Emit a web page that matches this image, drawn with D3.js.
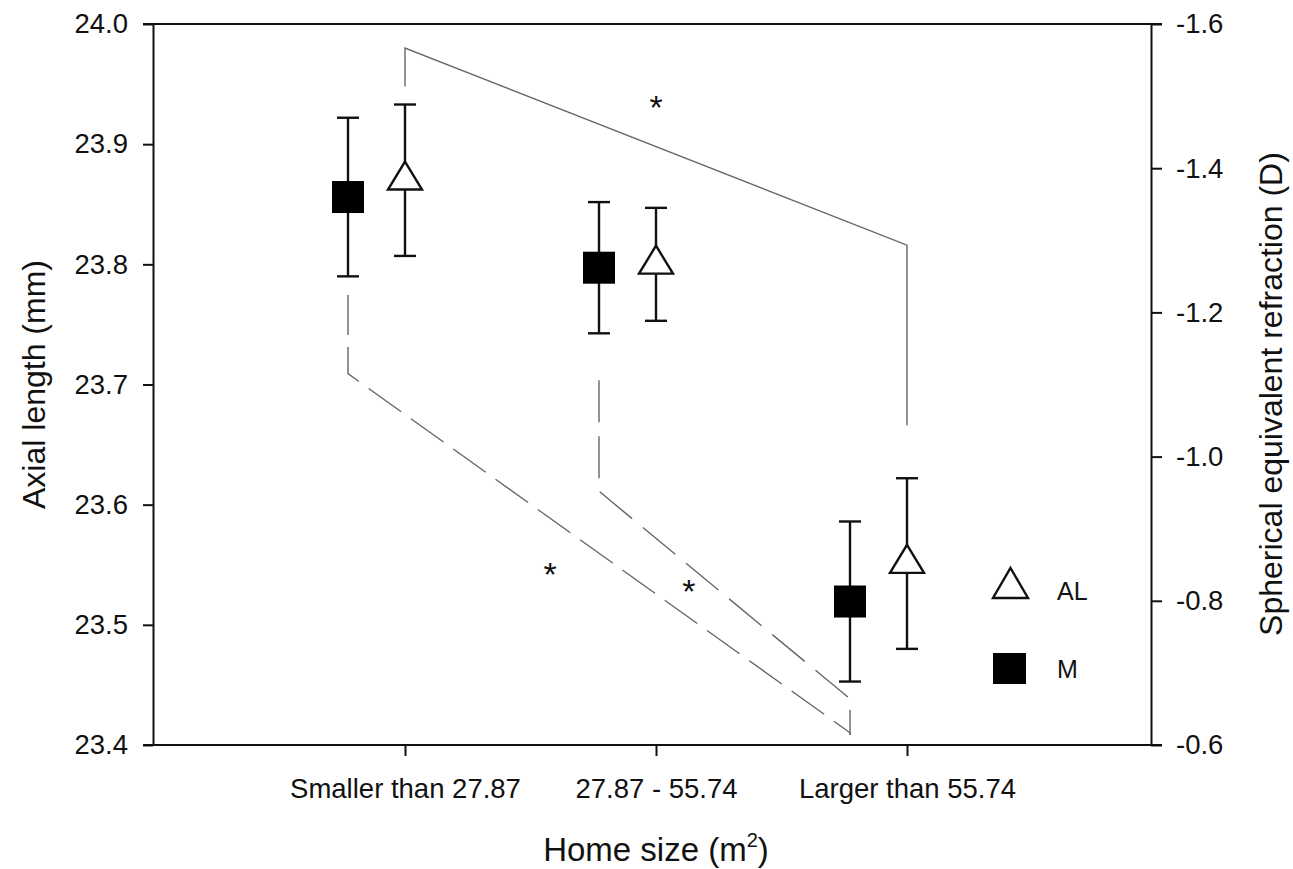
<!DOCTYPE html>
<html>
<head>
<meta charset="utf-8">
<script src="https://cdn.jsdelivr.net/npm/d3@7"></script>
<style>
  html, body { margin: 0; padding: 0; background: #fff; }
  svg { display: block; }
  text { font-family: "Liberation Sans", Arial, sans-serif; fill: #111; }
</style>
</head>
<body>
<svg id="chart" width="1293" height="869"></svg>
<script>
// Home-size groups
const categories = ["Smaller than 27.87", "27.87 - 55.74", "Larger than 55.74"];

// Axial length (mm), left axis: mean and error half-width
const alMean = [23.870, 23.800, 23.551];
const alErr  = [0.063, 0.047, 0.071];

// Spherical equivalent refraction (D), right axis: mean and error half-width
const mMean = [-1.360, -1.262, -0.799];
const mErr  = [0.110, 0.091, 0.111];

// Axis ticks
const leftTicks  = [23.4, 23.5, 23.6, 23.7, 23.8, 23.9, 24.0];
const rightTicks = [-1.6, -1.4, -1.2, -1.0, -0.8, -0.6];

// Significance brackets: [category index, value] corners
const bracketAL = [[0, 23.948], [0, 23.980], [2, 23.816], [2, 23.666]];          // left axis, AL column
const bracketM13 = [[0, -1.224], [0, -1.115], [2, -0.617], [2, -0.614]];       // right axis, M column
const bracketM23 = [[1, -1.106], [1, -0.952], [2, -0.664], [2, -0.614]];       // right axis, M column

// Asterisks: [fractional category position, axial length value]
const stars = [[1.0, 23.937], [0.578, 23.548], [1.131, 23.534]];

const svg = d3.select("#chart");
const plotLeft = 153, plotRight = 1151, plotTop = 24, plotBottom = 745;

const x = d3.scalePoint().domain(categories).range([405, 907]).padding(0);
const xi = d3.scaleLinear().domain([0, 2]).range([405, 907]);
const yL = d3.scaleLinear().domain([23.4, 24.0]).range([plotBottom, plotTop]);
const yR = d3.scaleLinear().domain([-0.6, -1.6]).range([plotBottom, plotTop]);
const mOffset = -57;

// Frame lines (top and bottom), extending over the outer ticks
svg.append("line").attr("x1", plotLeft - 10).attr("x2", plotRight + 11)
  .attr("y1", plotTop).attr("y2", plotTop).attr("stroke", "#111").attr("stroke-width", 2);
svg.append("line").attr("x1", plotLeft - 10).attr("x2", plotRight + 11)
  .attr("y1", plotBottom).attr("y2", plotBottom).attr("stroke", "#111").attr("stroke-width", 2);

// Left axis
const gL = svg.append("g").attr("transform", `translate(${plotLeft},0)`)
  .call(d3.axisLeft(yL).tickValues(leftTicks).tickFormat(d => d.toFixed(1))
    .tickSize(10).tickSizeOuter(0).tickPadding(15));
// Right axis
const gR = svg.append("g").attr("transform", `translate(${plotRight},0)`)
  .call(d3.axisRight(yR).tickValues(rightTicks).tickFormat(d => d.toFixed(1))
    .tickSize(11).tickSizeOuter(0).tickPadding(14));
// Bottom axis
const gB = svg.append("g").attr("transform", `translate(0,${plotBottom})`)
  .call(d3.axisBottom(x).tickSize(11).tickSizeOuter(0).tickPadding(22));
gB.select(".domain").remove();

[gL, gR, gB].forEach(g => {
  g.selectAll(".domain").attr("stroke", "#111").attr("stroke-width", 2);
  g.selectAll(".tick line").attr("stroke", "#111").attr("stroke-width", 2);
  g.selectAll("text").style("font-family", "'Liberation Sans', Arial, sans-serif")
    .style("font-size", "27.5px").attr("fill", "#111");
});

// Significance brackets
const lineGen = (ys, off) => d3.line().x(d => xi(d[0]) + off).y(d => ys(d[1]));
svg.append("path").datum(bracketAL)
  .attr("d", lineGen(yL, 0)).attr("fill", "none")
  .attr("stroke", "#666").attr("stroke-width", 1.4);
svg.append("path").datum(bracketM13)
  .attr("d", lineGen(yR, mOffset)).attr("fill", "none")
  .attr("stroke", "#666").attr("stroke-width", 1.4).attr("stroke-dasharray", "40,12");
svg.append("path").datum(bracketM23)
  .attr("d", lineGen(yR, mOffset)).attr("fill", "none")
  .attr("stroke", "#666").attr("stroke-width", 1.4).attr("stroke-dasharray", "42,14");

// Significance asterisks, centred on their positions
svg.selectAll("text.star").data(stars).enter().append("text")
  .attr("class", "star")
  .attr("x", d => xi(d[0])).attr("y", d => yL(d[1]) + 19)
  .attr("text-anchor", "middle").style("font-size", "34px").text("*");

// Error bars
function errorBars(mean, err, ys, off) {
  const g = svg.append("g");
  mean.forEach((m, i) => {
    const cx = x(categories[i]) + off;
    const y1 = ys(m - err[i]), y2 = ys(m + err[i]);
    g.append("line").attr("x1", cx).attr("x2", cx).attr("y1", y1).attr("y2", y2)
      .attr("stroke", "#111").attr("stroke-width", 2.4);
    [y1, y2].forEach(yy => g.append("line")
      .attr("x1", cx - 11).attr("x2", cx + 11).attr("y1", yy).attr("y2", yy)
      .attr("stroke", "#111").attr("stroke-width", 2.4));
  });
}
errorBars(mMean, mErr, yR, mOffset);
errorBars(alMean, alErr, yL, 0);

// Markers
const triPath = (w, h) => `M0,${-2 * h / 3}L${w / 2},${h / 3}L${-w / 2},${h / 3}Z`;
svg.selectAll("rect.m").data(mMean).enter().append("rect")
  .attr("class", "m")
  .attr("x", (d, i) => x(categories[i]) + mOffset - 16)
  .attr("y", d => yR(d) - 16)
  .attr("width", 32).attr("height", 32).attr("fill", "#000");
svg.selectAll("path.al").data(alMean).enter().append("path")
  .attr("class", "al")
  .attr("transform", (d, i) => `translate(${x(categories[i])},${yL(d)})`)
  .attr("d", triPath(34, 28)).attr("fill", "#fff")
  .attr("stroke", "#111").attr("stroke-width", 2.4).attr("stroke-linejoin", "miter");

// Legend
const lg = svg.append("g");
lg.append("path").attr("transform", "translate(1010.5,588)")
  .attr("d", triPath(35, 30)).attr("fill", "#fff")
  .attr("stroke", "#111").attr("stroke-width", 2.4);
lg.append("text").attr("x", 1057).attr("y", 600).style("font-size", "25px").text("AL");
lg.append("rect").attr("x", 993).attr("y", 653).attr("width", 33).attr("height", 31).attr("fill", "#000");
lg.append("text").attr("x", 1057).attr("y", 678).style("font-size", "25px").text("M");

// Axis titles
svg.append("text").attr("transform", `translate(45,${(plotTop + plotBottom) / 2}) rotate(-90)`)
  .attr("text-anchor", "middle").style("font-size", "32px").text("Axial length (mm)");
svg.append("text").attr("transform", `translate(1282,394) rotate(-90)`)
  .attr("text-anchor", "middle").style("font-size", "32px")
  .text("Spherical equivalent refraction (D)");
const xt = svg.append("text").attr("x", 656).attr("y", 861)
  .attr("text-anchor", "middle").style("font-size", "33px");
xt.append("tspan").text("Home size (m");
xt.append("tspan").attr("dy", -14).style("font-size", "20px").text("2");
xt.append("tspan").attr("dy", 14).text(")");
</script>
</body>
</html>
